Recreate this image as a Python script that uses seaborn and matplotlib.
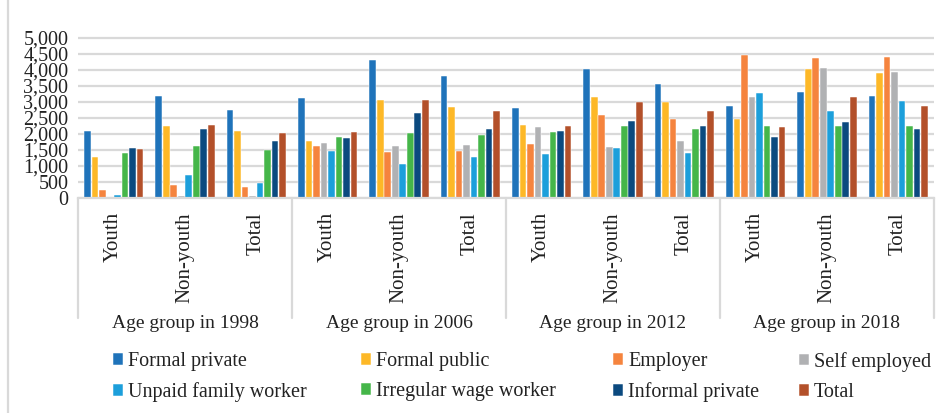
import matplotlib
matplotlib.use("Agg")
import matplotlib.pyplot as plt
import seaborn as sns
import pandas as pd
from matplotlib.transforms import blended_transform_factory
from matplotlib.lines import Line2D
from matplotlib.patches import Rectangle

# ---------------- data ----------------
groups = ["Age group in 1998", "Age group in 2006", "Age group in 2012", "Age group in 2018"]
categories = ["Youth", "Non-youth", "Total"]
series = ["Formal private", "Formal public", "Employer", "Self employed",
          "Unpaid family worker", "Irregular wage worker", "Informal private", "Total"]

formal_private = [2080, 3180, 2750, 3130, 4300, 3790, 2810, 4020, 3550, 2880, 3310, 3180]
formal_public = [1290, 2240, 2090, 1770, 3050, 2850, 2290, 3150, 3000, 2470, 4030, 3890]
employer = [260, 410, 350, 1630, 1420, 1480, 1680, 2600, 2460, 4450, 4370, 4380]
self_employed = [0, 70, 70, 1730, 1630, 1650, 2210, 1590, 1780, 3150, 4060, 3920]
unpaid_family = [100, 730, 480, 1460, 1050, 1270, 1360, 1560, 1410, 3260, 2720, 3030]
irregular_wage = [1400, 1620, 1510, 1890, 2040, 1950, 2070, 2260, 2160, 2240, 2240, 2240]
informal_private = [1550, 2160, 1770, 1860, 2640, 2140, 2080, 2390, 2240, 1900, 2360, 2160]
total = [1520, 2270, 2030, 2050, 3070, 2700, 2230, 2980, 2700, 2200, 3160, 2870]

values = [formal_private, formal_public, employer, self_employed,
          unpaid_family, irregular_wage, informal_private, total]
colors = ["#1F73BA", "#FDB827", "#F5843E", "#B0B1B3",
          "#1C9FDB", "#45B649", "#0B4A7F", "#B3502A"]

keys = [f"{g}|{c}" for g in groups for c in categories]
rows = []
for s, vals in zip(series, values):
    for k, v in zip(keys, vals):
        rows.append({"key": k, "series": s, "value": v})
df = pd.DataFrame(rows)

# ---------------- plot ----------------
sns.set_theme(style="white")
plt.rcParams["font.family"] = ["Liberation Serif", "DejaVu Serif"]
FS = 14

fig = plt.figure(figsize=(9.44, 4.13), dpi=100)
ax = fig.add_axes([78 / 944, 1 - 198 / 413, (934 - 78) / 944, (198 - 36) / 413])

sns.barplot(data=df, x="key", y="value", hue="series", order=keys, hue_order=series,
            palette=colors, errorbar=None, width=0.84, gap=0.1, ax=ax,
            edgecolor="white", linewidth=0.35, saturation=1)

grid_c = "#D9D9D9"
ax.set_ylim(0, 5050)
ax.set_xlim(-0.5, len(keys) - 0.5)
yt = list(range(0, 5001, 500))
ax.set_yticks(yt)
ax.set_yticklabels([f"{v:,}" for v in yt], fontsize=14.5, color="#222222")
ax.yaxis.grid(True, color=grid_c, linewidth=1.6)
ax.set_axisbelow(True)
ax.set_xticks(range(len(keys)))
ax.set_xticklabels([c for g in groups for c in categories], rotation=90,
                   fontsize=15, color="#222222")
ax.tick_params(axis="both", length=0)
ax.tick_params(axis="x", pad=10)
ax.tick_params(axis="y", pad=7)
ax.set_xlabel("")
ax.set_ylabel("")
for sp in ["left", "right", "top"]:
    ax.spines[sp].set_visible(False)
ax.spines["bottom"].set_color(grid_c)
ax.spines["bottom"].set_linewidth(1.6)

# group labels and dividers
tr = blended_transform_factory(ax.transData, fig.transFigure)
for i, g in enumerate(groups):
    ax.text(i * 3 + 1, 1 - 323 / 413, g, transform=tr, ha="center", va="center",
            fontsize=FS, color="#222222")
for i in range(len(groups) + 1):
    x = i * 3 - 0.5
    fig.add_artist(Line2D([x, x], [1 - 198 / 413, 1 - 318 / 413], transform=tr,
                          color=grid_c, linewidth=1.6))

# chart border
fig.add_artist(Rectangle((8 / 944, -0.2), 1.2, 1.2 + (1 - 11 / 413), transform=fig.transFigure,
                         fill=False, edgecolor=grid_c, linewidth=1.6))

# legend: four columns placed separately
handles, labels = ax.get_legend_handles_labels()
ax.get_legend().remove()
col_x = [113, 361, 613, 799]
for j, cx in enumerate(col_x):
    hh = [handles[j], handles[j + 4]]
    ll = [labels[j], labels[j + 4]]
    fig.legend(hh, ll, loc="upper left", bbox_to_anchor=(cx / 944, 1 - 352 / 413),
               frameon=False, fontsize=14.5, handlelength=0.5, handleheight=0.5,
               handletextpad=0.25, labelspacing=0.55, borderpad=0, borderaxespad=0,
               labelcolor="#222222")

fig.savefig("out.png", dpi=100)
